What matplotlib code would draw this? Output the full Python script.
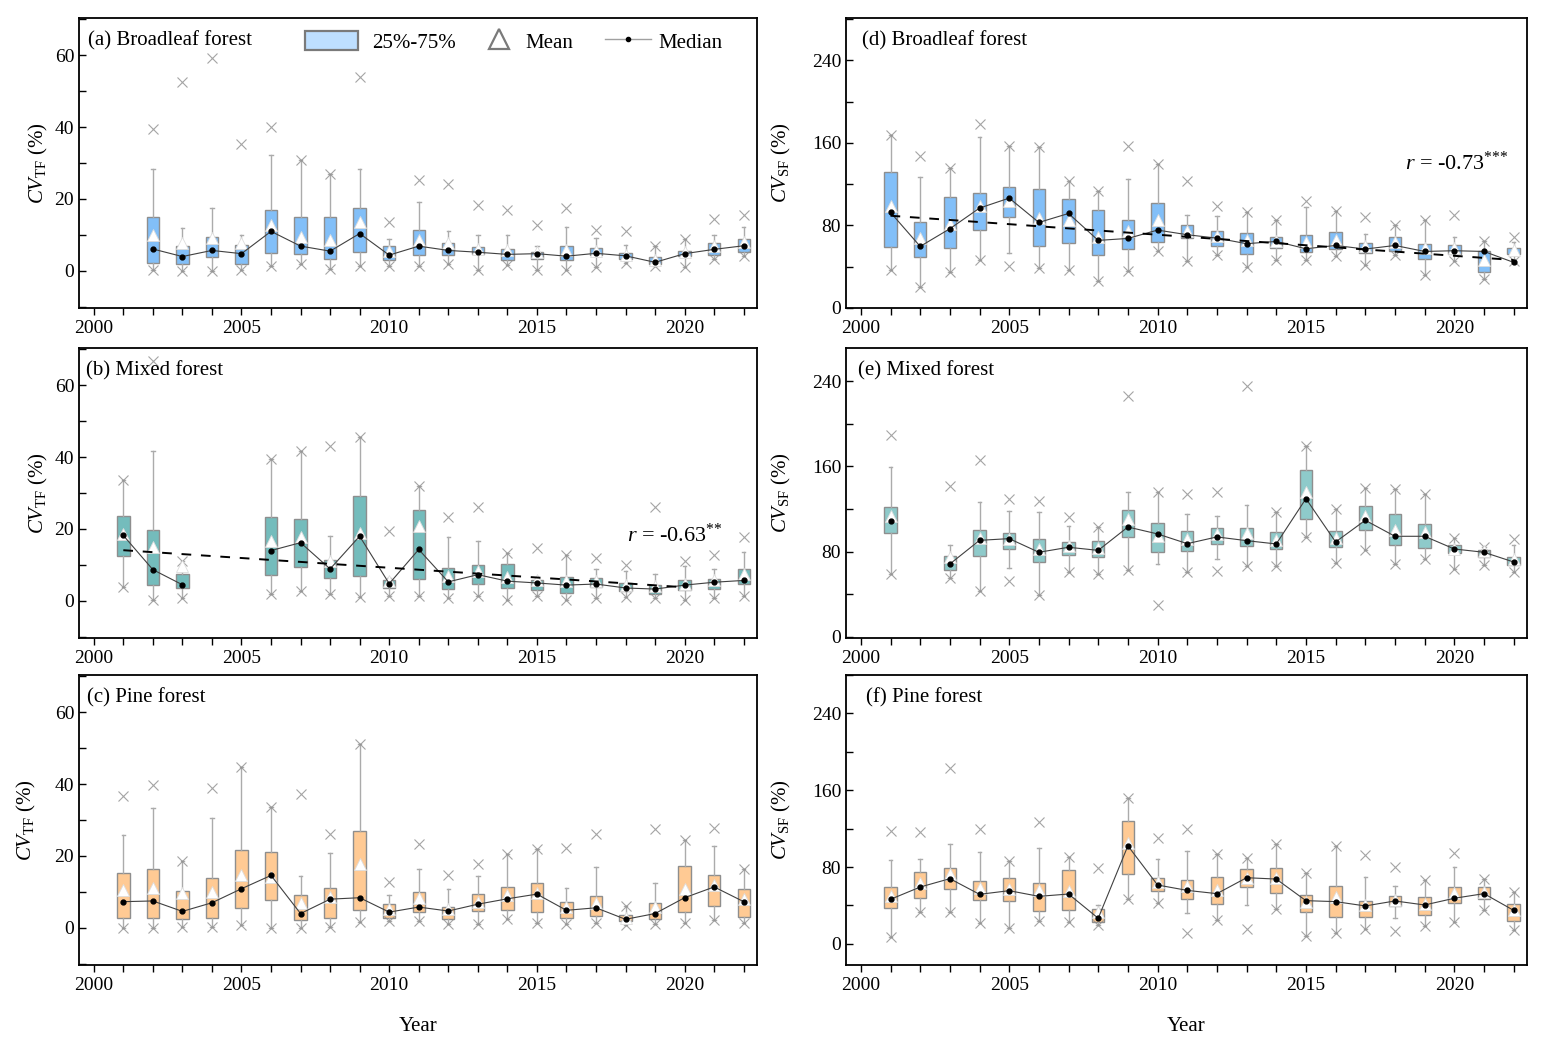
"""
Box plots of CV_TF and CV_SF by year for three forest types
"""

import numpy as np
import matplotlib
matplotlib.use('Agg')
import matplotlib.pyplot as plt
from matplotlib.patches import Patch
from matplotlib.lines import Line2D
from matplotlib.ticker import MultipleLocator

plt.rcParams['font.family'] = ['Liberation Serif', 'DejaVu Serif']
plt.rcParams['mathtext.fontset'] = 'custom'
plt.rcParams['mathtext.rm'] = 'Liberation Serif'
plt.rcParams['mathtext.it'] = 'Liberation Serif:italic'

nan = np.nan
years = np.arange(2001, 2023)

# columns per year: upper x, whisker top, q3, mean, median, q1, whisker bottom, lower x
# (a) Broadleaf forest, CV_TF
a_hi = [nan, 39.4, 52.5, 59.2, 35.3, 39.9, 30.7, 26.9, 53.8, 13.6, 25.3, 24.2, 18.2, 17.0, 12.9, 17.5, 11.3, 11.0, 7.0, 8.9, 14.4, 15.5]
a_whi = [nan, 28.4, 11.8, 17.4, 10.1, 32.2, 30.7, 26.9, 28.3, 8.9, 19.2, 11.0, 9.9, 10.1, 7.0, 12.1, 9.2, 7.3, 7.0, 8.9, 9.9, 12.1]
a_q3 = [nan, 15.1, 6.8, 9.4, 7.2, 16.9, 15.1, 14.9, 17.5, 6.8, 11.3, 7.7, 6.6, 6.0, 5.2, 7.0, 6.4, 5.0, 3.9, 5.6, 7.7, 8.9]
a_mean = [nan, 10.1, 7.8, 9.2, 7.8, 12.7, 9.4, 8.7, 13.5, 5.5, 8.7, 7.7, 6.2, 5.7, 5.2, 5.7, 5.5, 4.4, 3.1, 5.2, 6.9, 8.0]
a_med = [nan, 6.1, 4.0, 5.7, 4.8, 11.0, 6.9, 5.5, 10.4, 4.4, 6.9, 5.7, 5.2, 4.6, 4.8, 4.1, 4.9, 4.2, 2.4, 4.8, 6.0, 7.0]
a_q1 = [nan, 2.1, 2.0, 3.8, 1.9, 5.1, 4.6, 3.2, 5.3, 3.1, 4.4, 4.4, 4.6, 3.1, 3.3, 3.0, 4.3, 3.4, 1.9, 4.2, 4.4, 5.2]
a_wlo = [nan, 0.4, 0.0, 0.0, 0.2, 1.3, 1.8, 0.6, 1.3, 1.3, 1.3, 1.8, 0.4, 1.6, 0.4, 0.4, 1.0, 2.2, 1.3, 1.2, 3.2, 4.2]
a_lo = a_wlo

# (b) Mixed forest, CV_TF
b_hi = [33.5, 66.6, 11.2, nan, nan, 39.5, 41.8, 43.2, 45.5, 19.5, 31.9, 23.2, 26.1, 13.3, 14.7, 12.7, 11.8, 10.1, 26.0, 11.0, 12.7, 17.9]
b_whi = [33.5, 41.6, 11.2, nan, nan, 39.5, 41.8, 18.0, 45.5, 6.5, 31.9, 17.7, 16.6, 13.3, 6.5, 12.7, 8.9, 8.2, 7.5, 9.6, 8.9, 13.6]
b_q3 = [23.5, 19.8, 7.6, nan, nan, 23.2, 22.9, 11.5, 29.3, 5.7, 25.2, 9.2, 10.1, 10.4, 5.7, 6.7, 6.4, 5.0, 4.4, 5.7, 6.1, 8.9]
b_mean = [18.7, 15.0, 9.6, nan, nan, 16.6, 17.8, 11.2, 18.9, 5.5, 20.7, 7.0, 8.4, 6.6, 5.7, 5.5, 5.5, 4.4, 4.1, 4.8, 5.7, 7.5]
b_med = [18.2, 8.7, 4.5, nan, nan, 14.0, 16.2, 8.9, 18.0, 4.8, 14.3, 5.3, 7.3, 5.5, 5.0, 4.4, 4.7, 3.6, 3.3, 4.4, 5.2, 5.7]
b_q1 = [12.4, 4.4, 3.6, nan, nan, 7.1, 9.3, 6.3, 6.8, 3.6, 6.1, 3.3, 4.7, 3.6, 3.1, 2.2, 3.8, 2.9, 1.8, 3.0, 3.3, 4.7]
b_wlo = [3.8, 0.4, 0.9, nan, nan, 1.9, 2.9, 1.8, 1.0, 1.3, 1.3, 0.9, 1.3, 0.4, 1.3, 0.2, 0.9, 1.2, 0.9, 0.2, 0.9, 1.3]
b_lo = b_wlo

# (c) Pine forest, CV_TF
c_hi = [36.7, 39.7, 18.6, 38.8, 44.7, 33.7, 37.3, 26.0, 51.0, 12.9, 23.2, 14.6, 17.7, 20.6, 22.0, 22.3, 26.0, 6.1, 27.4, 24.4, 27.9, 16.5]
c_whi = [25.7, 33.2, 18.6, 30.5, 44.7, 33.7, 14.4, 20.9, 51.0, 9.1, 16.5, 10.9, 14.3, 20.6, 22.0, 11.2, 17.0, 6.1, 12.4, 24.4, 22.8, 16.5]
c_q3 = [15.4, 16.3, 10.3, 13.9, 21.6, 21.0, 9.1, 11.0, 26.9, 6.6, 10.1, 5.9, 9.4, 11.4, 12.6, 7.2, 8.9, 3.6, 7.0, 17.2, 14.6, 10.9]
c_mean = [10.5, 11.1, 9.6, 9.9, 14.6, 14.2, 6.8, 8.6, 17.7, 5.2, 8.4, 5.3, 7.3, 9.1, 9.8, 5.8, 6.8, 2.9, 5.9, 10.7, 11.9, 8.0]
c_med = [7.3, 7.5, 4.6, 7.0, 10.9, 14.6, 4.0, 8.0, 8.4, 4.4, 5.8, 4.7, 6.6, 8.1, 9.4, 4.9, 5.6, 2.4, 4.0, 8.4, 11.4, 7.3]
c_q1 = [2.9, 2.9, 2.4, 2.7, 5.6, 7.7, 2.1, 2.9, 4.9, 2.8, 4.3, 2.4, 4.7, 4.9, 4.3, 2.7, 3.3, 1.9, 2.4, 4.3, 6.1, 3.1]
c_wlo = [0.0, 0.0, 0.2, 0.2, 0.7, 0.0, 0.0, 0.2, 1.7, 1.9, 1.9, 1.0, 1.0, 2.4, 1.5, 1.0, 1.3, 0.7, 1.0, 1.5, 2.2, 1.3]
c_lo = c_wlo

# (d) Broadleaf forest, CV_SF
d_hi = [167.7, 146.8, 136.1, 178.4, 156.8, 155.8, 123.5, 113.5, 157.1, 139.7, 123.5, 98.4, 92.6, 85.5, 103.9, 94.2, 87.7, 80.6, 84.8, 89.7, 64.5, 68.7]
d_whi = [167.7, 126.5, 136.1, 165.5, 156.8, 155.8, 123.5, 113.5, 124.8, 139.7, 90.3, 88.7, 92.6, 85.5, 97.4, 94.2, 71.9, 80.6, 84.8, 68.7, 64.5, 63.9]
d_q3 = [131.6, 82.9, 107.1, 111.9, 117.7, 115.5, 105.5, 95.2, 84.8, 101.6, 80.0, 74.8, 72.3, 69.0, 71.0, 73.2, 62.9, 68.4, 62.3, 61.3, 54.8, 58.1]
d_mean = [98.4, 67.7, 81.3, 98.4, 103.9, 87.1, 85.5, 68.7, 74.8, 84.8, 74.2, 69.4, 66.1, 64.5, 63.9, 66.1, 60.3, 63.9, 58.1, 58.1, 46.8, 56.5]
d_med = [92.6, 59.7, 76.8, 96.8, 106.5, 82.9, 91.6, 65.5, 67.4, 75.5, 71.0, 67.7, 62.3, 64.5, 57.4, 60.6, 57.1, 60.6, 54.8, 55.5, 54.8, 44.2]
d_q1 = [58.7, 49.0, 57.7, 75.5, 88.4, 60.3, 62.6, 51.0, 56.8, 63.5, 67.7, 60.3, 52.6, 58.1, 53.9, 57.1, 52.9, 55.5, 47.7, 52.3, 34.8, 52.3]
d_wlo = [37.1, 20.6, 34.8, 46.1, 52.9, 38.7, 36.5, 26.5, 35.5, 54.8, 45.8, 51.0, 39.4, 46.1, 46.1, 50.0, 41.3, 51.0, 32.3, 45.2, 28.4, 45.2]
d_lo = [37.1, 20.6, 34.8, 46.1, 40.3, 38.7, 36.5, 26.5, 35.5, 54.8, 45.8, 51.0, 39.4, 46.1, 46.1, 50.0, 41.3, 51.0, 32.3, 45.2, 28.4, 45.2]

# (e) Mixed forest, CV_SF
e_hi = [189.1, nan, 141.9, 166.3, 129.7, 127.2, 112.2, 102.8, 226.3, 135.9, 134.4, 135.6, 235.6, 116.9, 179.4, 120.3, 139.7, 139.1, 134.4, 92.8, 84.1, 91.9]
e_whi = [159.4, nan, 86.6, 126.2, 117.8, 116.9, 103.8, 102.8, 135.6, 135.9, 115.3, 113.1, 123.4, 116.9, 179.4, 120.3, 139.7, 139.1, 134.4, 92.8, 84.1, 85.9]
e_q3 = [122.2, nan, 75.6, 100.6, 97.2, 92.2, 88.8, 89.7, 119.4, 106.9, 99.7, 102.2, 102.2, 98.1, 156.2, 99.1, 123.1, 115.6, 106.3, 85.9, 81.9, 74.7]
e_mean = [113.1, nan, 75.0, 92.8, 91.9, 82.8, 85.0, 83.4, 110.9, 94.4, 92.2, 96.6, 97.5, 91.3, 135.6, 92.8, 113.1, 100.6, 98.4, 82.5, 80.3, 73.1]
e_med = [108.4, nan, 68.4, 90.6, 92.2, 79.4, 84.1, 81.2, 103.1, 96.6, 87.5, 93.8, 90.3, 87.2, 129.7, 89.1, 109.4, 94.4, 94.4, 82.5, 79.4, 70.3]
e_q1 = [97.5, nan, 63.1, 75.6, 82.8, 70.0, 77.2, 75.3, 93.4, 79.7, 80.9, 87.5, 85.0, 82.5, 110.9, 84.4, 100.6, 86.6, 83.4, 78.8, 74.7, 67.2]
e_wlo = [59.1, nan, 55.3, 43.4, 64.7, 39.1, 60.6, 59.4, 62.5, 68.4, 60.9, 73.1, 66.2, 66.9, 93.4, 69.4, 81.2, 68.8, 73.4, 64.1, 67.8, 60.6]
e_lo = [59.1, nan, 55.3, 43.4, 52.2, 39.1, 60.6, 59.4, 62.5, 30.3, 60.9, 62.2, 66.2, 66.9, 93.4, 69.4, 81.2, 68.8, 73.4, 64.1, 67.8, 60.6]

# (f) Pine forest, CV_SF
f_hi = [117.4, 116.0, 183.2, 119.5, 86.2, 127.1, 90.7, 78.6, 152.4, 109.8, 119.5, 93.5, 89.7, 103.5, 73.4, 102.1, 92.5, 79.6, 66.5, 94.9, 67.5, 53.7]
f_whi = [86.9, 88.3, 103.5, 95.2, 86.2, 99.4, 90.7, 40.5, 152.4, 88.3, 97.0, 93.5, 89.7, 103.5, 73.4, 102.1, 69.3, 60.3, 66.5, 79.6, 67.5, 53.7]
f_q3 = [58.9, 74.5, 78.6, 65.8, 68.2, 63.7, 76.5, 36.0, 128.1, 68.2, 66.8, 69.3, 77.6, 78.6, 50.6, 60.6, 45.0, 50.2, 48.5, 58.9, 59.6, 41.6]
f_mean = [49.9, 63.0, 72.4, 57.8, 57.1, 56.4, 55.4, 32.9, 104.6, 64.7, 60.6, 56.4, 68.2, 68.2, 44.0, 48.5, 40.5, 45.7, 41.2, 53.0, 54.4, 35.3]
f_med = [46.4, 59.2, 67.9, 51.6, 55.4, 49.5, 51.9, 26.7, 102.1, 61.3, 55.7, 52.3, 68.9, 67.5, 45.0, 44.0, 39.5, 44.7, 40.5, 47.5, 52.3, 34.9]
f_q1 = [37.7, 48.1, 57.5, 45.7, 44.7, 34.3, 35.3, 22.9, 72.4, 55.1, 46.4, 41.2, 59.6, 52.6, 32.9, 27.7, 27.7, 39.8, 30.1, 42.6, 46.8, 24.2]
f_wlo = [7.6, 33.6, 32.9, 21.5, 17.0, 23.9, 22.5, 19.7, 46.4, 42.2, 32.6, 24.9, 40.5, 36.4, 8.7, 11.1, 15.6, 27.3, 19.0, 22.5, 35.3, 14.5]
f_lo = [7.6, 33.6, 32.9, 21.5, 17.0, 23.9, 22.5, 19.7, 46.4, 42.2, 11.1, 24.9, 15.6, 36.4, 8.7, 11.1, 15.6, 13.9, 19.0, 22.5, 35.3, 14.5]

# dashed trend lines (end points)
trend_b_years = [2001, 2020]
trend_b_vals = [14.1, 3.8]
trend_d_years = [2001, 2022]
trend_d_vals = [89.4, 46.5]

BLUE = '#82BFF8'
TEAL = '#74BCBC'
TEAL_E = '#8ECACA'
ORANGE = '#FFCA94'
EDGE = '#8E8E8E'
WHISK = '#ABABAB'


def draw_panel(ax, hi, whi, q3, mean, med, q1, wlo, lo, color):
    hi, whi, q3, mean, med, q1, wlo, lo = [np.asarray(v, dtype=float) for v in
                                             (hi, whi, q3, mean, med, q1, wlo, lo)]
    ok = ~np.isnan(med)
    stats = []
    for i in np.where(ok)[0]:
        stats.append({'med': med[i], 'q1': q1[i], 'q3': q3[i],
                      'whislo': wlo[i], 'whishi': whi[i], 'fliers': []})
    ax.bxp(stats, positions=years[ok], widths=0.42, patch_artist=True,
           showfliers=False, capwidths=0.12, manage_ticks=False,
           boxprops=dict(facecolor=color, edgecolor=EDGE, linewidth=1.0),
           whiskerprops=dict(color=WHISK, linewidth=1.0),
           capprops=dict(color=WHISK, linewidth=1.0),
           medianprops=dict(linewidth=0))
    ax.plot(years, hi, 'x', color=EDGE, ms=7, mew=0.8, alpha=0.8, zorder=3)
    ax.plot(years, lo, 'x', color=EDGE, ms=7, mew=0.8, alpha=0.8, zorder=3)
    ax.plot(years, mean, '^', mfc='white', mec='#DDDDDD', mew=0.6, ms=8,
            ls='none', zorder=4)
    ax.plot(years, med, '-', color='#404040', lw=0.8, marker='o', ms=3.5,
            mfc='black', mec='black', zorder=5)


def style_axis(ax, ylim, major, minor, ylab):
    ax.set_xlim(1999.5, 2022.45)
    ax.set_ylim(*ylim)
    ax.xaxis.set_major_locator(MultipleLocator(5))
    ax.xaxis.set_minor_locator(MultipleLocator(1))
    ax.yaxis.set_major_locator(MultipleLocator(major))
    ax.yaxis.set_minor_locator(MultipleLocator(minor))
    ax.tick_params(axis='x', which='both', direction='out', length=5,
                   width=1.0, labelsize=14)
    ax.tick_params(axis='y', which='both', direction='in', length=5,
                   width=1.0, labelsize=14)
    for s in ax.spines.values():
        s.set_linewidth(1.3)
    ax.set_ylabel(ylab, fontsize=15)


fig = plt.figure(figsize=(15.46, 10.49), dpi=100)
W, H = 1546.0, 1049.0


def axes_px(l, r, t, b):
    return fig.add_axes([l / W, 1 - b / H, (r - l) / W, (b - t) / H])


ax_a = axes_px(79, 757, 18, 308)
ax_b = axes_px(79, 757, 348, 638)
ax_c = axes_px(79, 757, 675, 965)
ax_d = axes_px(846, 1527, 18, 308)
ax_e = axes_px(846, 1527, 348, 638)
ax_f = axes_px(846, 1527, 675, 965)

tf_lab = r'$\mathit{CV}_{\mathrm{TF}}$ (%)'
sf_lab = r'$\mathit{CV}_{\mathrm{SF}}$ (%)'

draw_panel(ax_a, a_hi, a_whi, a_q3, a_mean, a_med, a_q1, a_wlo, a_lo, BLUE)
draw_panel(ax_b, b_hi, b_whi, b_q3, b_mean, b_med, b_q1, b_wlo, b_lo, TEAL)
draw_panel(ax_c, c_hi, c_whi, c_q3, c_mean, c_med, c_q1, c_wlo, c_lo, ORANGE)
draw_panel(ax_d, d_hi, d_whi, d_q3, d_mean, d_med, d_q1, d_wlo, d_lo, BLUE)
draw_panel(ax_e, e_hi, e_whi, e_q3, e_mean, e_med, e_q1, e_wlo, e_lo, TEAL_E)
draw_panel(ax_f, f_hi, f_whi, f_q3, f_mean, f_med, f_q1, f_wlo, f_lo, ORANGE)

for ax in (ax_a, ax_b, ax_c):
    style_axis(ax, (-10.3, 70.3), 20, 10, tf_lab)
style_axis(ax_d, (0, 281), 80, 40, sf_lab)
style_axis(ax_e, (-1, 271), 80, 40, sf_lab)
style_axis(ax_f, (-22, 280), 80, 40, sf_lab)

ax_a.yaxis.set_label_coords(-0.043, 0.5)
ax_b.yaxis.set_label_coords(-0.043, 0.5)
ax_c.yaxis.set_label_coords(-0.06, 0.5)
for ax in (ax_d, ax_e, ax_f):
    ax.yaxis.set_label_coords(-0.078, 0.5)

# trend lines
ax_b.plot(trend_b_years, trend_b_vals, color='black', lw=1.4,
          dashes=(5, 5), zorder=6)
ax_d.plot(trend_d_years, trend_d_vals, color='black', lw=1.4,
          dashes=(5, 5), zorder=6)
ax_b.text(2018.05, 18.3, r'$r$ = -0.63$^{{*}{*}}$', fontsize=16, va='center')
ax_d.text(2018.35, 140, r'$r$ = -0.73$^{{*}{*}{*}}$', fontsize=16, va='center')

# panel titles
titles = [(ax_a, '(a) Broadleaf forest', 0.013), (ax_b, '(b) Mixed forest', 0.010),
          (ax_c, '(c) Pine forest', 0.012), (ax_d, '(d) Broadleaf forest', 0.023),
          (ax_e, '(e) Mixed forest', 0.018), (ax_f, '(f) Pine forest', 0.029)]
for ax, txt, x in titles:
    ax.text(x, 0.955, txt, transform=ax.transAxes, fontsize=15, va='top')

ax_c.set_xlabel('Year', fontsize=15, labelpad=17)
ax_f.set_xlabel('Year', fontsize=15, labelpad=17)

# legend, three single entries placed side by side
leg_items = [
    (Patch(facecolor='#BEDFFF', edgecolor='#7A7A7A', linewidth=1.6),
     '25%-75%', 305, 2.55, 0.65),
    (Line2D([], [], marker='^', ls='none', mfc='none', mec='#7A7A7A',
            mew=1.6, ms=15), 'Mean', 486, 1.2, 0.7),
    (Line2D([], [], color='#A0A0A0', lw=1.0, marker='o', ms=3,
            mfc='black', mec='black'), 'Median', 605, 2.2, 0.35),
]
for handle, label, x0, hl, pad in leg_items:
    fig.legend([handle], [label], loc='center left',
               bbox_to_anchor=(x0 / W, 1 - 42 / H), frameon=False,
               fontsize=15, handlelength=hl, handleheight=1.0,
               handletextpad=pad, borderpad=0, borderaxespad=0)

fig.savefig('out.png', dpi=100)
